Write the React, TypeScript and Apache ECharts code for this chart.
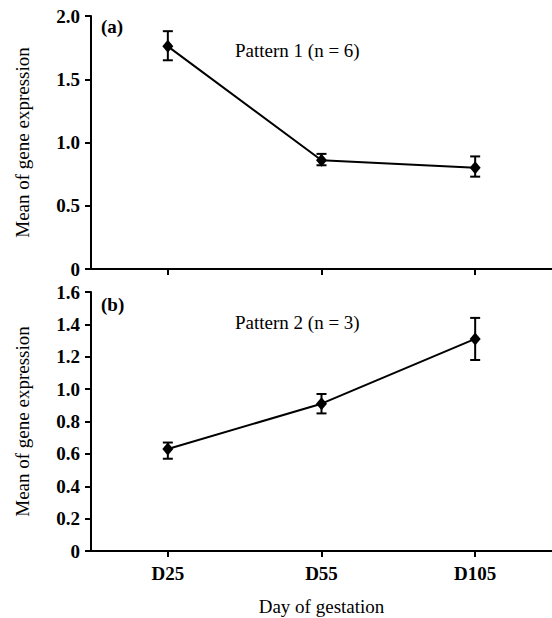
import React, { useEffect, useRef } from "react";
import * as echarts from "echarts";

const categories = ["D25", "D55", "D105"];
const meanA = [1.76, 0.86, 0.8];
const lowA = [1.65, 0.82, 0.73];
const highA = [1.88, 0.91, 0.89];
const meanB = [0.63, 0.91, 1.31];
const lowB = [0.57, 0.85, 1.18];
const highB = [0.67, 0.97, 1.44];

const FONT = "'Liberation Serif', 'Times New Roman', serif";

function errData(low: number[], high: number[]) {
  return categories.map((_, i) => [i, low[i], high[i]]);
}

function renderErr(params: any, api: any) {
  const x = api.value(0);
  const lo = api.coord([x, api.value(1)]);
  const hi = api.coord([x, api.value(2)]);
  const cap = 5;
  const style = { stroke: "#000", lineWidth: 2 };
  return {
    type: "group",
    children: [
      { type: "line", shape: { x1: lo[0], y1: lo[1], x2: hi[0], y2: hi[1] }, style },
      { type: "line", shape: { x1: hi[0] - cap, y1: hi[1], x2: hi[0] + cap, y2: hi[1] }, style },
      { type: "line", shape: { x1: lo[0] - cap, y1: lo[1], x2: lo[0] + cap, y2: lo[1] }, style },
    ],
  };
}

export default function App() {
  const ref = useRef<HTMLDivElement>(null);
  useEffect(() => {
    if (!ref.current) return;
    const chart = echarts.init(ref.current, undefined, { renderer: "svg" });
    const axisLine = { show: true, lineStyle: { color: "#000", width: 2 } };
    const axisTick = { show: true, inside: false, length: 6, lineStyle: { color: "#000", width: 2 } };
    const yLabel = { color: "#000", fontFamily: FONT, fontSize: 19, fontWeight: "bold", margin: 11 };
    const yName = "Mean of gene expression";
    const yNameStyle = { color: "#000", fontFamily: FONT, fontSize: 19 };
    chart.setOption({
      animation: false,
      backgroundColor: "#fff",
      grid: [
        { left: 91, top: 16, width: 465, height: 253 },
        { left: 91, top: 292, width: 465, height: 259 },
      ],
      xAxis: [
        {
          type: "category",
          gridIndex: 0,
          data: categories,
          boundaryGap: true,
          axisLine,
          axisTick: { ...axisTick, alignWithLabel: true },
          axisLabel: { show: false },
          splitLine: { show: false },
        },
        {
          type: "category",
          gridIndex: 1,
          data: categories,
          boundaryGap: true,
          axisLine,
          axisTick: { ...axisTick, alignWithLabel: true },
          axisLabel: { color: "#000", fontFamily: FONT, fontSize: 19, fontWeight: "bold", margin: 13 },
          splitLine: { show: false },
          name: "Day of gestation",
          nameLocation: "middle",
          nameGap: 46,
          nameTextStyle: { color: "#000", fontFamily: FONT, fontSize: 19 },
        },
      ],
      yAxis: [
        {
          type: "value",
          gridIndex: 0,
          min: 0,
          max: 2,
          interval: 0.5,
          axisLine,
          axisTick,
          splitLine: { show: false },
          axisLabel: {
            ...yLabel,
            formatter: (v: number) => (v === 0 ? "0" : v.toFixed(1)),
          },
          name: yName,
          nameLocation: "middle",
          nameGap: 59,
          nameTextStyle: yNameStyle,
        },
        {
          type: "value",
          gridIndex: 1,
          min: 0,
          max: 1.6,
          interval: 0.2,
          axisLine,
          axisTick,
          splitLine: { show: false },
          axisLabel: {
            ...yLabel,
            formatter: (v: number) => (v === 0 ? "0" : v.toFixed(1)),
          },
          name: yName,
          nameLocation: "middle",
          nameGap: 59,
          nameTextStyle: yNameStyle,
        },
      ],
      series: [
        {
          type: "line",
          xAxisIndex: 0,
          yAxisIndex: 0,
          data: meanA,
          symbol: "diamond",
          symbolSize: [11, 13],
          lineStyle: { color: "#000", width: 2 },
          itemStyle: { color: "#000" },
          z: 3,
        },
        {
          type: "custom",
          xAxisIndex: 0,
          yAxisIndex: 0,
          data: errData(lowA, highA),
          encode: { x: 0, y: [1, 2] },
          renderItem: renderErr,
          z: 4,
        },
        {
          type: "line",
          xAxisIndex: 1,
          yAxisIndex: 1,
          data: meanB,
          symbol: "diamond",
          symbolSize: [11, 13],
          lineStyle: { color: "#000", width: 2 },
          itemStyle: { color: "#000" },
          z: 3,
        },
        {
          type: "custom",
          xAxisIndex: 1,
          yAxisIndex: 1,
          data: errData(lowB, highB),
          encode: { x: 0, y: [1, 2] },
          renderItem: renderErr,
          z: 4,
        },
      ],
      graphic: [
        { type: "text", left: 101, top: 17, style: { text: "(a)", font: `bold 19px ${FONT}`, fill: "#000" } },
        { type: "text", left: 235, top: 41, style: { text: "Pattern 1 (n = 6)", font: `19px ${FONT}`, fill: "#000" } },
        { type: "text", left: 101, top: 295, style: { text: "(b)", font: `bold 19px ${FONT}`, fill: "#000" } },
        { type: "text", left: 235, top: 313, style: { text: "Pattern 2 (n = 3)", font: `19px ${FONT}`, fill: "#000" } },
      ],
    });
    return () => chart.dispose();
  }, []);
  return (
    <div
      ref={ref}
      style={{ position: "absolute", left: 0, top: 0, width: 552, height: 618, background: "#fff" }}
    />
  );
}
